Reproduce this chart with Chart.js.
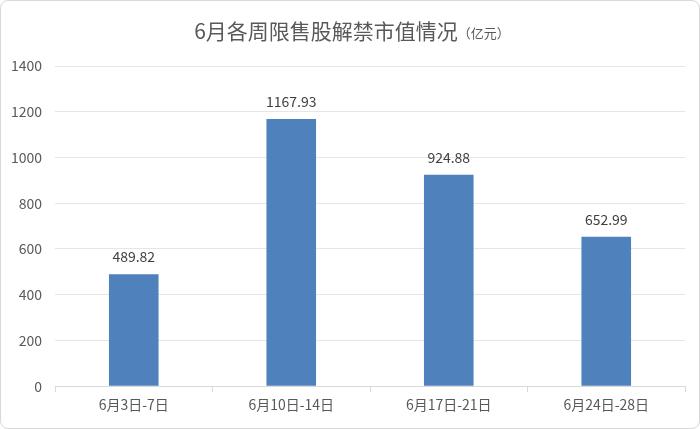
<!DOCTYPE html>
<html>
<head>
<meta charset="utf-8">
<script src="https://cdn.jsdelivr.net/npm/chart.js@4"></script>
<style>
html, body { margin: 0; padding: 0; background: #fff; }
#box { position: relative; width: 698px; height: 427px; border: 1px solid #d9d9d9; border-radius: 8px; overflow: hidden; }
canvas { position: absolute; left: -1px; top: -1px; }
</style>
</head>
<body>
<div id="box"><canvas id="weekChart" width="700" height="429"></canvas></div>
<script>
const weekLabels = ["6月3日-7日", "6月10日-14日", "6月17日-21日", "6月24日-28日"];
const unlockValues = [489.82, 1167.93, 924.88, 652.99];
const yTicks = [0, 200, 400, 600, 800, 1000, 1200, 1400];

const fontFamily = "'Noto Sans CJK SC', 'Noto Sans', sans-serif";

// =======================
// title + value labels
// =======================

const extras = {
    id: "extras",
    afterDraw(chart) {
        const ctx = chart.ctx;
        ctx.save();
        ctx.textBaseline = "middle";
        ctx.fillStyle = "#595959";
        const main = "6月各周限售股解禁市值情况";
        ctx.font = "21px " + fontFamily;
        const w1 = ctx.measureText(main).width;
        ctx.font = "13px " + fontFamily;
        const sub = "（亿元）";
        const w2 = ctx.measureText(sub).width;
        let x = 352 - (w1 + w2) / 2;
        ctx.textAlign = "left";
        ctx.font = "21px " + fontFamily;
        ctx.fillText(main, x, 31);
        ctx.font = "13px " + fontFamily;
        ctx.fillText(sub, x + w1, 33);

        const meta = chart.getDatasetMeta(0);
        ctx.fillStyle = "#404040";
        ctx.font = "14px " + fontFamily;
        ctx.textAlign = "center";
        ctx.textBaseline = "bottom";
        meta.data.forEach((bar, i) => {
            ctx.fillText(unlockValues[i].toFixed(2), bar.x, bar.y - 10);
        });
        ctx.restore();
    }
};

new Chart(document.getElementById("weekChart"), {
    type: "bar",
    data: {
        labels: weekLabels,
        datasets: [{
            data: unlockValues,
            backgroundColor: "#4f81bd",
            categoryPercentage: 1,
            barPercentage: 0.315
        }]
    },
    options: {
        responsive: false,
        animation: false,
        layout: { padding: { top: 66, right: 15, bottom: 12, left: 0 } },
        plugins: {
            legend: { display: false },
            tooltip: { enabled: false }
        },
        scales: {
            x: {
                grid: {
                    offset: true,
                    drawOnChartArea: false,
                    tickLength: 6,
                    color: "#d9d9d9"
                },
                border: { color: "#d9d9d9" },
                ticks: {
                    color: "#595959",
                    font: { family: fontFamily, size: 14 },
                    padding: 4
                }
            },
            y: {
                min: 0,
                max: 1400,
                afterBuildTicks(scale) {
                    scale.ticks = yTicks.map(v => ({ value: v }));
                },
                afterFit(scale) {
                    scale.width = 55;
                },
                grid: {
                    color: "#e6e6e6",
                    drawTicks: false
                },
                border: { display: false },
                ticks: {
                    color: "#595959",
                    font: { family: fontFamily, size: 14 },
                    padding: 13,
                    callback: v => String(v)
                }
            }
        }
    },
    plugins: [extras]
});
</script>
</body>
</html>
